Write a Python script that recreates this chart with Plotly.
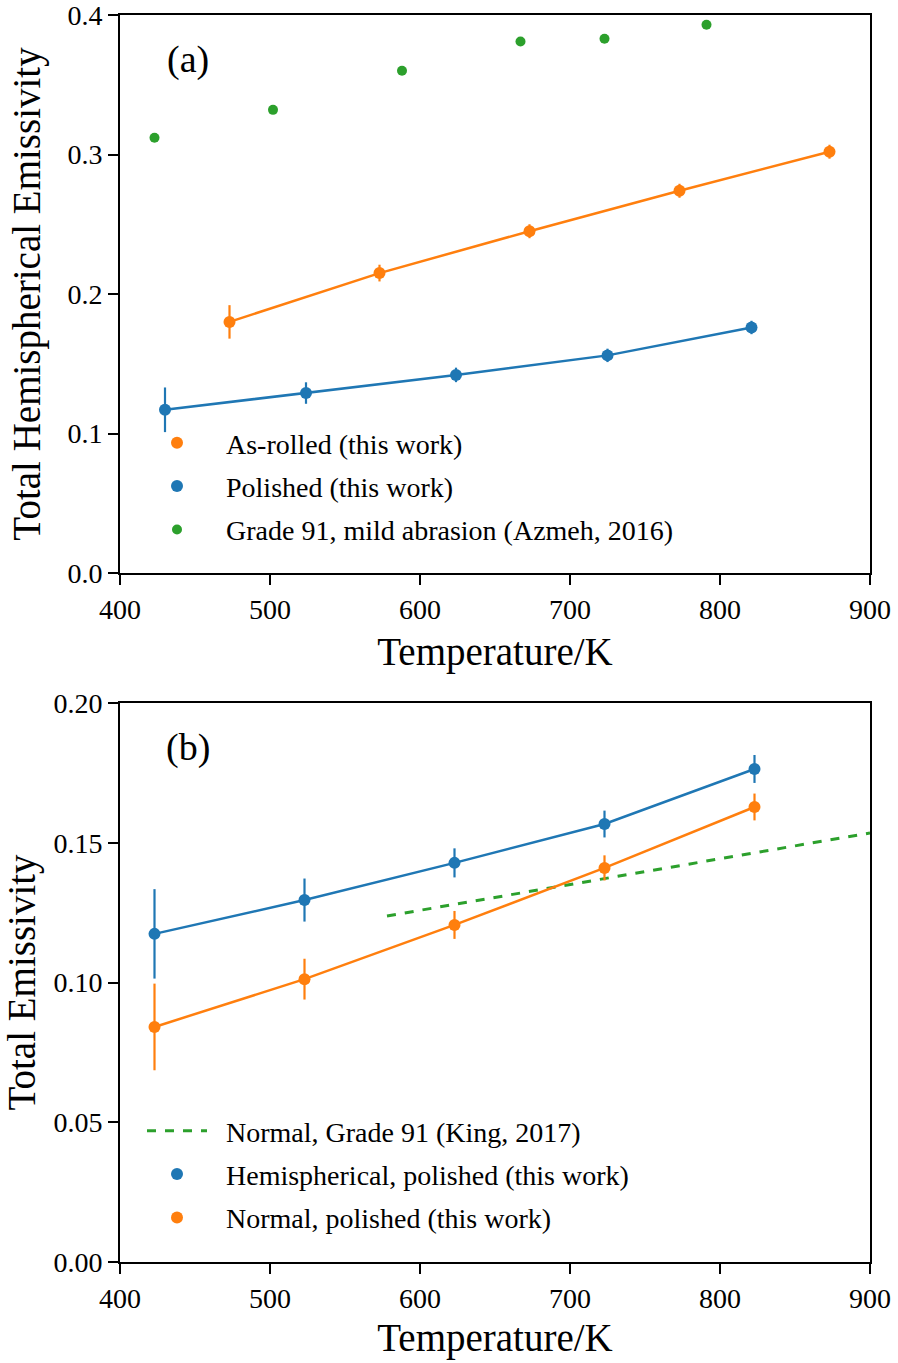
import plotly.graph_objects as go

# ---------------- data ----------------
# Panel (a): total hemispherical emissivity
a_rolled_T = [473, 573, 673, 773, 873]
a_rolled_e = [0.180, 0.215, 0.245, 0.274, 0.302]
a_rolled_err = [0.012, 0.006, 0.005, 0.005, 0.005]

a_pol_T = [430, 524, 624, 725, 821]
a_pol_e = [0.117, 0.129, 0.142, 0.156, 0.176]
a_pol_err = [0.016, 0.0077, 0.0052, 0.0048, 0.0048]

azmeh_T = [423, 502, 588, 667, 723, 791]
azmeh_e = [0.312, 0.332, 0.360, 0.381, 0.383, 0.393]

# Panel (b): total emissivity
b_hemi_T = [423, 523, 623, 723, 823]
b_hemi_e = [0.1174, 0.1295, 0.1428, 0.1567, 0.1764]
b_hemi_err = [0.016, 0.0077, 0.0052, 0.0048, 0.005]

b_norm_T = [423, 523, 623, 723, 823]
b_norm_e = [0.0841, 0.1012, 0.1206, 0.1410, 0.1628]
b_norm_err = [0.0155, 0.0073, 0.005, 0.0045, 0.0048]

king_T = [578, 900]
king_e = [0.1238, 0.1535]

xticks = [400, 500, 600, 700, 800, 900]
yticks_a = [0.0, 0.1, 0.2, 0.3, 0.4]
yticks_b = [0.00, 0.05, 0.10, 0.15, 0.20]

BLUE = "#1f77b4"
ORANGE = "#ff7f0e"
GREEN = "#2ca02c"
FONT = "Liberation Serif"
PAD = "\u00a0\u00a0"

fig = go.Figure()

def err(vals, c):
    return dict(type="data", array=vals, visible=True, color=c, thickness=2.2, width=0)

# ---- panel (a)
fig.add_trace(go.Scatter(x=a_rolled_T, y=a_rolled_e, mode="lines", line=dict(color=ORANGE, width=2.5),
                         showlegend=False, xaxis="x", yaxis="y"))
fig.add_trace(go.Scatter(x=a_pol_T, y=a_pol_e, mode="lines", line=dict(color=BLUE, width=2.5),
                         showlegend=False, xaxis="x", yaxis="y"))
fig.add_trace(go.Scatter(x=a_rolled_T, y=a_rolled_e, mode="markers", marker=dict(color=ORANGE, size=12),
                         error_y=err(a_rolled_err, ORANGE), name=PAD + "As-rolled (this work)",
                         legend="legend", legendgroup="a1", xaxis="x", yaxis="y"))
fig.add_trace(go.Scatter(x=a_pol_T, y=a_pol_e, mode="markers", marker=dict(color=BLUE, size=12),
                         error_y=err(a_pol_err, BLUE), name=PAD + "Polished (this work)",
                         legend="legend", legendgroup="a2", xaxis="x", yaxis="y"))
fig.add_trace(go.Scatter(x=azmeh_T, y=azmeh_e, mode="markers", marker=dict(color=GREEN, size=10),
                         name=PAD + "Grade 91, mild abrasion (Azmeh, 2016)",
                         legend="legend", legendgroup="a3", xaxis="x", yaxis="y"))

# ---- panel (b)
fig.add_trace(go.Scatter(x=king_T, y=king_e, mode="lines", line=dict(color=GREEN, width=3, dash="dash"),
                         name=PAD + "Normal, Grade 91 (King, 2017)",
                         legend="legend2", legendgroup="b1", xaxis="x2", yaxis="y2"))
fig.add_trace(go.Scatter(x=b_hemi_T, y=b_hemi_e, mode="lines", line=dict(color=BLUE, width=2.5),
                         showlegend=False, xaxis="x2", yaxis="y2"))
fig.add_trace(go.Scatter(x=b_norm_T, y=b_norm_e, mode="lines", line=dict(color=ORANGE, width=2.5),
                         showlegend=False, xaxis="x2", yaxis="y2"))
fig.add_trace(go.Scatter(x=b_hemi_T, y=b_hemi_e, mode="markers", marker=dict(color=BLUE, size=12),
                         error_y=err(b_hemi_err, BLUE), name=PAD + "Hemispherical, polished (this work)",
                         legend="legend2", legendgroup="b2", xaxis="x2", yaxis="y2"))
fig.add_trace(go.Scatter(x=b_norm_T, y=b_norm_e, mode="markers", marker=dict(color=ORANGE, size=12),
                         error_y=err(b_norm_err, ORANGE), name=PAD + "Normal, polished (this work)",
                         legend="legend2", legendgroup="b3", xaxis="x2", yaxis="y2"))

# ---- layout
W, H = 898, 1363
ML, MR, MT, MB = 120, 28, 15, 101
PH = H - MT - MB

def py(pix):
    return (H - MB - pix) / PH

def px(pix):
    return (pix - ML) / (W - ML - MR)

axis_common = dict(showline=True, linecolor="black", linewidth=1.8, mirror=True,
                   ticks="outside", ticklen=10, tickwidth=1.6, tickcolor="black",
                   showgrid=False, zeroline=False, automargin=False,
                   ticklabeloverflow="allow",
                   tickfont=dict(family=FONT, size=28, color="black"))

fig.update_layout(
    width=W, height=H,
    margin=dict(l=ML, r=MR, t=MT, b=MB, autoexpand=False),
    paper_bgcolor="white", plot_bgcolor="white",
    font=dict(family=FONT, color="black"),
    xaxis=dict(domain=[0, 1], anchor="y", range=[400, 900], tickvals=xticks,
               title=dict(text="Temperature/K", font=dict(family=FONT, size=39), standoff=14),
               **axis_common),
    yaxis=dict(domain=[py(573), 1], anchor="x", range=[0, 0.4], tickvals=yticks_a,
               ticktext=[f"{v:.1f}" for v in yticks_a],
               title=dict(text="Total Hemispherical Emissivity", font=dict(family=FONT, size=39), standoff=15),
               **axis_common),
    xaxis2=dict(domain=[0, 1], anchor="y2", range=[400, 900], tickvals=xticks,
                title=dict(text="Temperature/K", font=dict(family=FONT, size=39), standoff=11),
                **axis_common),
    yaxis2=dict(domain=[0, py(703)], anchor="x2", range=[0, 0.20], tickvals=yticks_b,
                ticktext=[f"{v:.2f}" for v in yticks_b],
                title=dict(text="Total Emissivity", font=dict(family=FONT, size=39), standoff=20),
                **axis_common),
    legend=dict(x=px(142), y=py(418), xanchor="left", yanchor="top",
                bgcolor="rgba(0,0,0,0)", borderwidth=0, itemwidth=60,
                traceorder="grouped", tracegroupgap=4,
                font=dict(family=FONT, size=28, color="black")),
    legend2=dict(x=px(142), y=py(1106), xanchor="left", yanchor="top",
                 bgcolor="rgba(0,0,0,0)", borderwidth=0, itemwidth=60,
                 traceorder="grouped", tracegroupgap=4,
                 font=dict(family=FONT, size=28, color="black")),
    annotations=[
        dict(text="(a)", xref="x", yref="y", x=445, y=0.368, showarrow=False,
             font=dict(family=FONT, size=38, color="black")),
        dict(text="(b)", xref="x2", yref="y2", x=445, y=0.184, showarrow=False,
             font=dict(family=FONT, size=38, color="black")),
    ],
)

fig.write_html("out.html")
